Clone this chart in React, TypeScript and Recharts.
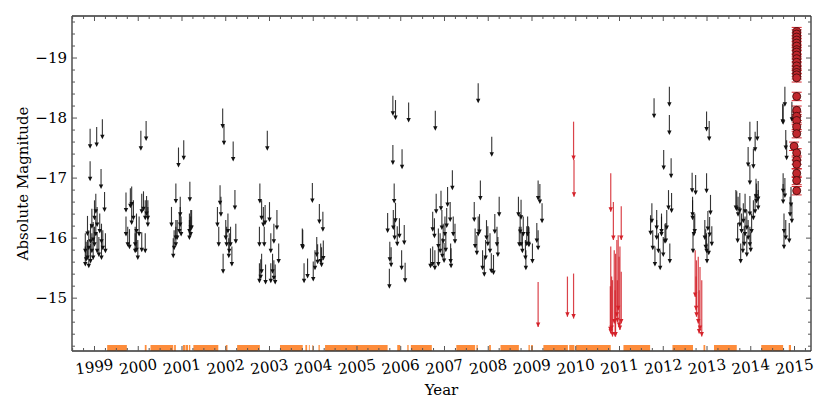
import React from "react";
import {
  ScatterChart,
  Scatter,
  XAxis,
  YAxis,
  ErrorBar,
  ReferenceArea,
} from "recharts";

const FONT = "DejaVu Serif";
const X_DOMAIN: [number, number] = [1998.486, 2015.377];
const Y_DOMAIN: [number, number] = [-19.7, -14.12];

const YEAR_TICKS = [
  1999, 2000, 2001, 2002, 2003, 2004, 2005, 2006, 2007, 2008, 2009, 2010,
  2011, 2012, 2013, 2014, 2015,
];
const MAG_TICKS = [-19, -18, -17, -16, -15];

// minor ticks: quarter years, 0.2 mag
const X_TICKS: number[] = [];
[1998, ...YEAR_TICKS].forEach((y) =>
  [0, 0.25, 0.5, 0.75].forEach((q) => {
    const v = y + q;
    if (v > X_DOMAIN[0] && v < X_DOMAIN[1]) X_TICKS.push(v);
  })
);
const Y_TICKS: number[] = [];
for (let i = 0; i <= 27; i++) Y_TICKS.push(Math.round((-19.6 + i * 0.2) * 10) / 10);

// orange coverage strips along the bottom
const COVERAGE = [
  [1999.29, 1999.74], [2000.15, 2000.19], [2000.28, 2000.8], [2000.82, 2000.86],
  [2001.02, 2001.07], [2001.08, 2001.14], [2001.16, 2001.19], [2001.26, 2001.83],
  [2002.0, 2002.04], [2002.26, 2002.78], [2003.24, 2003.76], [2003.82, 2003.86],
  [2003.9, 2003.92], [2003.98, 2004.0], [2004.12, 2004.15], [2004.27, 2005.7],
  [2005.92, 2005.99], [2006.15, 2006.18], [2006.23, 2006.71], [2007.27, 2007.7],
  [2007.73, 2007.76], [2008.02, 2008.06], [2008.28, 2008.7], [2008.92, 2008.95],
  [2008.98, 2009.02], [2009.26, 2009.82], [2009.85, 2009.97], [2010.0, 2010.8],
  [2011.09, 2011.7], [2012.21, 2012.68], [2012.92, 2012.96], [2013.16, 2013.68],
  [2014.24, 2014.74], [2014.87, 2014.92],
];
const COVERAGE_BAND: [number, number] = [-14.22, -14.12];

// black upper limits, [year, magnitude]
const LIMITS_1999 = [
  [1998.9, -17.82], [1999.05, -17.85], [1999.18, -17.98], [1998.9, -17.28], [1999.15, -17.15],
  [1999.23, -16.77], [1998.79, -16.08], [1998.79, -15.86], [1998.81, -15.94], [1998.84, -16.37],
  [1998.84, -15.97], [1998.87, -16.13], [1998.87, -15.83], [1998.91, -16.24], [1998.91, -15.91],
  [1998.94, -16.49], [1998.94, -16.08], [1998.97, -16.27], [1998.97, -15.97], [1999.0, -16.63],
  [1999.0, -16.19], [1999.03, -16.74], [1999.03, -16.36], [1999.06, -16.52], [1999.06, -16.08],
  [1999.1, -16.02], [1999.12, -16.41], [1999.16, -16.24], [1999.16, -15.97], [1999.19, -16.13],
  [1999.25, -16.08],
];
const LIMITS_2000 = [
  [2000.06, -17.79], [2000.18, -17.95], [1999.72, -16.76], [1999.72, -16.36], [1999.76, -16.19],
  [1999.8, -16.15], [1999.82, -16.83], [1999.85, -16.86], [1999.85, -16.55], [1999.89, -16.63],
  [1999.93, -16.19], [1999.93, -16.08], [1999.96, -16.41], [1999.96, -16.1], [1999.99, -15.97],
  [2000.02, -16.36], [2000.08, -16.74], [2000.08, -16.1], [2000.12, -16.78], [2000.16, -16.63],
  [2000.16, -16.08], [2000.19, -16.7], [2000.22, -16.63], [2000.22, -16.52],
];
const LIMITS_2001 = [
  [2000.92, -17.51], [2001.04, -17.63], [2000.86, -16.91], [2001.18, -16.94], [2000.76, -16.52],
  [2000.96, -16.69], [2000.96, -16.52], [2000.82, -16.13], [2000.86, -16.3], [2000.86, -16.19],
  [2000.89, -16.3], [2000.94, -16.41], [2000.98, -16.36], [2001.17, -16.41], [2001.17, -16.3],
  [2001.2, -16.47], [2001.2, -16.36], [2001.22, -16.47], [2000.8, -16.0],
];
const LIMITS_2002 = [
  [2001.93, -18.16], [2001.96, -17.88], [2002.17, -17.61], [2001.87, -16.88], [2002.21, -16.8],
  [2001.81, -16.52], [2001.84, -16.19], [2001.89, -16.69], [2001.94, -15.74], [2002.02, -16.19],
  [2002.05, -16.41], [2002.08, -16.08], [2002.11, -16.19], [2002.14, -15.86], [2002.23, -16.24],
  [2002.07, -16.0], [2002.0, -16.3],
];
const LIMITS_2003 = [
  [2002.95, -17.79], [2002.78, -16.91], [2002.82, -16.63], [2002.86, -16.52], [2002.9, -16.55],
  [2003.0, -16.6], [2003.17, -16.47], [2002.77, -16.19], [2002.82, -15.74], [2002.77, -15.58],
  [2002.91, -15.56], [2002.88, -16.19], [2003.03, -16.08], [2003.03, -15.58], [2003.07, -15.74],
  [2003.1, -16.24], [2003.1, -15.63], [2003.13, -15.56], [2003.21, -15.91], [2002.8, -15.65],
];
const LIMITS_2004 = [
  [2003.98, -16.92], [2004.14, -16.57], [2004.22, -16.44], [2003.76, -16.14], [2004.08, -16.02],
  [2004.17, -15.91], [2004.23, -15.96], [2003.79, -15.58], [2003.87, -15.66], [2004.0, -15.61],
  [2004.04, -15.8], [2004.1, -15.9], [2004.19, -15.85], [2003.75, -16.16],
];
const LIMITS_2006 = [
  [2005.82, -18.37], [2005.88, -18.3], [2006.18, -18.26], [2005.82, -17.55], [2006.03, -17.48],
  [2005.85, -16.91], [2005.88, -16.59], [2005.7, -16.42], [2005.83, -16.47], [2005.97, -16.33],
  [2006.08, -16.22], [2005.75, -15.94], [2005.78, -15.85], [2006.02, -15.8], [2006.1, -15.59],
  [2005.74, -15.49], [2005.86, -16.3], [2005.92, -16.2],
];
const LIMITS_2007 = [
  [2006.79, -18.12], [2007.18, -17.13], [2006.81, -16.74], [2006.92, -16.79], [2007.07, -16.85],
  [2007.13, -16.6], [2006.73, -16.44], [2006.77, -16.33], [2006.86, -16.16], [2006.9, -16.08],
  [2006.94, -16.47], [2006.97, -16.24], [2007.01, -16.36], [2007.05, -16.5], [2007.2, -16.36],
  [2007.24, -16.24], [2006.68, -15.83], [2006.73, -15.86], [2006.78, -15.8], [2006.86, -15.86],
  [2006.99, -15.92], [2007.14, -15.91], [2007.15, -15.83], [2006.95, -16.0], [2007.03, -16.1],
];
const LIMITS_2008 = [
  [2007.77, -18.58], [2008.08, -17.69], [2007.82, -16.96], [2007.68, -16.6], [2008.25, -16.69],
  [2008.15, -16.4], [2007.77, -16.36], [2007.8, -16.4], [2007.96, -16.3], [2007.7, -16.16],
  [2007.74, -16.05], [2007.87, -15.8], [2007.91, -15.69], [2007.94, -15.97], [2008.04, -16.08],
  [2008.07, -15.75], [2008.12, -15.72], [2008.2, -16.19], [2008.22, -16.02], [2007.99, -16.2],
];
const LIMITS_2009 = [
  [2008.69, -16.69], [2008.75, -16.64], [2008.71, -16.19], [2008.8, -16.36], [2008.85, -15.97],
  [2008.9, -16.36], [2008.92, -16.2], [2009.14, -16.96], [2009.18, -16.9], [2009.23, -16.58],
  [2008.73, -16.4], [2008.88, -16.2], [2008.93, -16.18], [2009.11, -16.25], [2009.14, -16.13],
  [2008.86, -15.8], [2009.01, -15.91], [2008.75, -16.19], [2008.78, -16.08],
];
const LIMITS_2012 = [
  [2011.79, -18.33], [2012.14, -18.52], [2012.14, -18.05], [2012.01, -17.47], [2012.18, -17.33],
  [2012.12, -16.8], [2012.19, -16.75], [2011.74, -16.58], [2011.85, -16.3], [2011.96, -16.41],
  [2012.06, -16.25], [2011.71, -16.38], [2011.76, -16.13], [2011.81, -15.86], [2011.85, -16.47],
  [2011.89, -16.08], [2011.93, -15.8], [2011.96, -16.36], [2012.0, -16.02], [2012.04, -16.24],
  [2012.08, -16.47], [2012.15, -15.91],
];
const LIMITS_2013 = [
  [2012.66, -17.09], [2012.74, -17.05], [2012.99, -18.11], [2013.05, -17.95], [2012.99, -17.08],
  [2013.08, -16.72], [2012.67, -16.69], [2012.72, -16.41], [2012.67, -16.63], [2012.7, -16.36],
  [2012.68, -16.08], [2012.95, -16.3], [2012.99, -16.08], [2013.02, -16.45], [2013.06, -16.35],
  [2013.11, -16.2], [2013.0, -15.91], [2012.97, -16.15], [2013.04, -16.05],
];
const LIMITS_2014 = [
  [2013.98, -17.94], [2014.15, -17.95], [2014.1, -17.77], [2013.94, -17.52], [2014.06, -17.49],
  [2013.98, -17.22], [2014.12, -16.99], [2014.17, -16.95], [2013.68, -16.78], [2013.75, -16.75],
  [2013.87, -16.74], [2013.98, -16.7], [2013.66, -16.8], [2013.71, -16.69], [2013.75, -16.52],
  [2013.79, -16.41], [2013.83, -16.58], [2013.87, -16.36], [2013.91, -16.47], [2013.94, -16.3],
  [2013.98, -16.19], [2014.02, -16.41], [2014.06, -16.63], [2014.1, -16.74], [2014.13, -16.91],
  [2014.17, -16.8], [2013.77, -15.91], [2013.82, -16.08], [2013.91, -16.02], [2013.7, -16.25],
  [2013.85, -16.2], [2014.0, -16.1],
];
const LIMITS_2015 = [
  [2014.78, -18.52], [2014.73, -18.24], [2014.94, -18.27], [2014.8, -17.8], [2014.74, -17.08],
  [2014.78, -17.0], [2014.9, -16.69], [2014.94, -16.58], [2014.74, -16.9], [2014.76, -16.41],
  [2014.8, -16.3], [2014.74, -18.22], [2014.82, -17.63], [2014.92, -16.85], [2014.76, -16.15],
  [2014.88, -16.25],
];

// red upper limits, [year, top, arrow tip]
const RED_LIMITS = [
  [2009.14, -15.27, -14.52], [2009.81, -15.36, -14.69], [2009.95, -15.41, -14.66],
  [2009.95, -17.94, -17.3], [2009.96, -17.3, -16.69],
  [2010.8, -17.08, -16.44], [2010.8, -15.86, -14.41], [2010.82, -15.36, -14.47],
  [2010.86, -16.6, -15.97], [2010.88, -15.8, -14.58], [2010.91, -15.74, -14.36],
  [2010.94, -15.97, -14.69], [2010.97, -16.05, -14.8], [2010.99, -15.69, -14.52],
  [2011.01, -15.86, -14.47], [2011.04, -16.53, -15.97], [2011.04, -15.44, -14.58],
  [2010.84, -15.3, -14.36], [2010.9, -15.13, -14.36], [2010.79, -15.2, -14.45],
  [2010.95, -15.3, -14.6],
  [2012.73, -15.8, -15.02], [2012.76, -15.63, -14.69], [2012.8, -15.69, -14.58],
  [2012.84, -15.52, -14.47], [2012.88, -15.3, -14.36], [2012.75, -15.36, -14.8],
  [2012.82, -15.13, -14.41],
];

// detections, [year, magnitude]
const DETECTIONS = [
  [2015.05, -19.44], [2015.05, -19.4], [2015.05, -19.35], [2015.05, -19.3], [2015.05, -19.25],
  [2015.05, -19.2], [2015.05, -19.14], [2015.05, -19.1], [2015.05, -19.05], [2015.05, -18.99],
  [2015.05, -18.93], [2015.05, -18.87], [2015.05, -18.81], [2015.05, -18.76], [2015.05, -18.72],
  [2015.05, -18.67], [2015.05, -18.36], [2015.05, -18.13], [2015.05, -18.03], [2015.05, -17.96],
  [2015.05, -17.85], [2015.05, -17.74], [2014.99, -17.53], [2015.05, -17.42], [2015.05, -17.3],
  [2015.05, -17.23], [2015.05, -17.08], [2015.05, -16.96], [2015.05, -16.79],
];

const blackData = [
  ...LIMITS_1999, ...LIMITS_2000, ...LIMITS_2001, ...LIMITS_2002, ...LIMITS_2003,
  ...LIMITS_2004, ...LIMITS_2006, ...LIMITS_2007, ...LIMITS_2008, ...LIMITS_2009,
  ...LIMITS_2012, ...LIMITS_2013, ...LIMITS_2014, ...LIMITS_2015,
].map(([x, y]) => ({ x, y }));
const redLineData = RED_LIMITS.map(([x, top, tip]) => ({ x, y: top, err: [0, tip - top] }));
const redTipData = RED_LIMITS.map(([x, , tip]) => ({ x, y: tip }));
const detData = DETECTIONS.map(([x, y]) => ({ x, y, err: 0.07 }));

const RED = "#d4222a";
const ORANGE = "#fd8c3b";
const FRAME = "#333";
const FS = 15;

const isWhole = (v: number) => Math.abs(v - Math.round(v)) < 1e-6;

const BlackArrow = (p: any) => {
  const { cx, cy } = p;
  if (cx == null || cy == null) return <g />;
  const L = 20;
  return (
    <g>
      <line x1={cx} y1={cy} x2={cx} y2={cy + L - 2} stroke="#111" strokeWidth={1.1} strokeOpacity={0.85} />
      <path d={`M${cx - 2.2},${cy + L - 4.5}L${cx + 2.2},${cy + L - 4.5}L${cx},${cy + L}Z`} fill="#111" />
    </g>
  );
};

const RedTip = (p: any) => {
  const { cx, cy } = p;
  if (cx == null || cy == null) return <g />;
  return <path d={`M${cx - 2.2},${cy - 4.5}L${cx + 2.2},${cy - 4.5}L${cx},${cy}Z`} fill={RED} />;
};

const Dot = (p: any) => {
  const { cx, cy } = p;
  if (cx == null || cy == null) return <g />;
  return <circle cx={cx} cy={cy} r={4} fill="#c1272d" stroke="#4a0b0b" strokeWidth={0.9} />;
};

const Empty = () => <g />;

const BottomTick = (p: any) => {
  const { x, y, payload } = p;
  const major = isWhole(payload.value);
  return (
    <g>
      <line x1={x} y1={y} x2={x} y2={y - (major ? 5 : 3)} stroke="#555" />
      {major && (
        <text
          x={x}
          y={y + 16}
          transform={`rotate(-8 ${x} ${y + 16})`}
          textAnchor="middle"
          dominantBaseline="central"
          fontFamily={FONT}
          fontSize={FS}
          fill="#000"
        >
          {Math.round(payload.value)}
        </text>
      )}
    </g>
  );
};

const TopTick = (p: any) => {
  const { x, y, payload } = p;
  const major = isWhole(payload.value);
  return <line x1={x} y1={y} x2={x} y2={y + (major ? 5 : 3)} stroke="#555" />;
};

const LeftTick = (p: any) => {
  const { x, y, payload } = p;
  const major = isWhole(payload.value);
  return (
    <g>
      <line x1={x} y1={y} x2={x + (major ? 5 : 3)} y2={y} stroke="#555" />
      {major && MAG_TICKS.includes(Math.round(payload.value)) && (
        <text
          x={x - 5}
          y={y}
          textAnchor="end"
          dominantBaseline="central"
          fontFamily={FONT}
          fontSize={FS}
          fill="#000"
        >
          {`\u2212${Math.abs(Math.round(payload.value))}`}
        </text>
      )}
    </g>
  );
};

const RightTick = (p: any) => {
  const { x, y, payload } = p;
  const major = isWhole(payload.value);
  return <line x1={x} y1={y} x2={x - (major ? 5 : 3)} y2={y} stroke="#555" />;
};

const YTitle = (p: any) => {
  const vb = p.viewBox || {};
  const x = vb.x + vb.width - 49;
  const y = vb.y + vb.height / 2;
  return (
    <text x={x} y={y} transform={`rotate(-90 ${x} ${y})`} textAnchor="middle" dominantBaseline="central" fontFamily={FONT} fontSize={FS} fill="#000">
      Absolute Magnitude
    </text>
  );
};

const XTitle = (p: any) => {
  const vb = p.viewBox || {};
  return (
    <text x={vb.x + vb.width / 2} y={vb.y + 39} textAnchor="middle" dominantBaseline="central" fontFamily={FONT} fontSize={FS} fill="#000">
      Year
    </text>
  );
};

export default function App() {
  const axisLine = { stroke: FRAME, strokeWidth: 1.3 };
  return (
    <div style={{ position: "absolute", left: 0, top: 0, width: 830, height: 415, background: "#fff" }}>
      <ScatterChart width={830} height={415} margin={{ top: 15, right: 18, bottom: 63, left: 71 }}>
        <XAxis
          dataKey="x"
          type="number"
          domain={X_DOMAIN}
          allowDataOverflow
          ticks={X_TICKS}
          interval={0}
          height={1}
          tickSize={0}
          tickMargin={0}
          tickLine={false}
          axisLine={axisLine}
          tick={<BottomTick />}
          label={<XTitle />}
        />
        <XAxis
          xAxisId="top"
          orientation="top"
          dataKey="x"
          type="number"
          domain={X_DOMAIN}
          allowDataOverflow
          ticks={X_TICKS}
          interval={0}
          height={1}
          tickSize={0}
          tickMargin={0}
          tickLine={false}
          axisLine={axisLine}
          tick={<TopTick />}
        />
        <YAxis
          dataKey="y"
          type="number"
          domain={Y_DOMAIN}
          reversed
          allowDataOverflow
          ticks={Y_TICKS}
          interval={0}
          width={1}
          tickSize={0}
          tickMargin={0}
          tickLine={false}
          axisLine={axisLine}
          tick={<LeftTick />}
          label={<YTitle />}
        />
        <YAxis
          yAxisId="right"
          orientation="right"
          dataKey="y"
          type="number"
          domain={Y_DOMAIN}
          reversed
          allowDataOverflow
          ticks={Y_TICKS}
          interval={0}
          width={1}
          tickSize={0}
          tickMargin={0}
          tickLine={false}
          axisLine={axisLine}
          tick={<RightTick />}
        />
        {COVERAGE.map(([a, b], i) => (
          <ReferenceArea
            key={`cov-${i}`}
            x1={a}
            x2={b}
            y1={COVERAGE_BAND[0]}
            y2={COVERAGE_BAND[1]}
            fill={ORANGE}
            fillOpacity={1}
            stroke="none"
          />
        ))}
        <Scatter data={blackData} shape={<BlackArrow />} isAnimationActive={false} />
        <Scatter data={redLineData} shape={<Empty />} isAnimationActive={false}>
          <ErrorBar dataKey="err" direction="y" width={0} stroke={RED} strokeWidth={1.2} strokeOpacity={0.85} isAnimationActive={false} />
        </Scatter>
        <Scatter data={redTipData} shape={<RedTip />} isAnimationActive={false} />
        <Scatter data={detData} shape={<Dot />} isAnimationActive={false}>
          <ErrorBar dataKey="err" direction="y" width={5} stroke={RED} strokeWidth={1} isAnimationActive={false} />
        </Scatter>
      </ScatterChart>
    </div>
  );
}
